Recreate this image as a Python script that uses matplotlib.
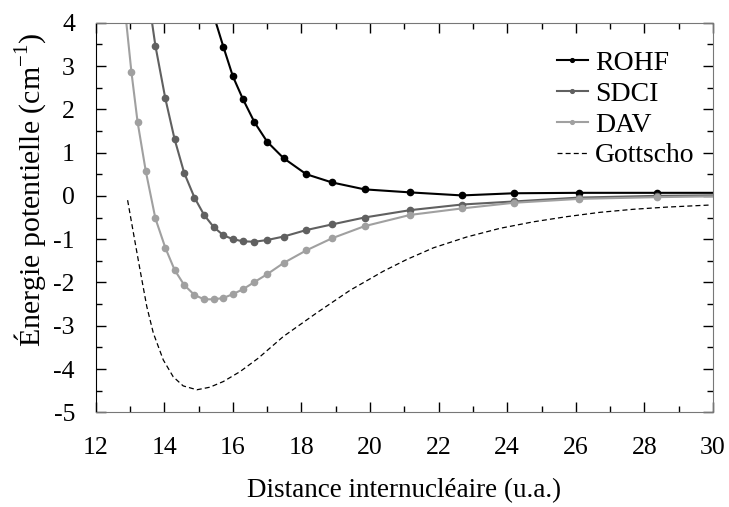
import numpy as np
import matplotlib
matplotlib.use('Agg')
import matplotlib.pyplot as plt
from matplotlib.ticker import MultipleLocator

plt.rcParams['font.family'] = ['Liberation Serif', 'DejaVu Serif']
plt.rcParams['mathtext.fontset'] = 'custom'
plt.rcParams['mathtext.rm'] = 'Liberation Serif'
plt.rcParams['axes.unicode_minus'] = False

# distances (u.a.)
r_dav = [12.86, 13.04, 13.22, 13.46, 13.74, 14.03, 14.30, 14.58, 14.88, 15.16, 15.44,
         15.72, 16.00, 16.29, 16.63, 17.00, 17.48, 18.14, 18.89, 19.84, 21.17, 22.68,
         24.19, 26.09, 28.36, 31.0]
e_dav = [4.25, 2.87, 1.71, 0.57, -0.52, -1.20, -1.71, -2.06, -2.29, -2.39, -2.39,
         -2.36, -2.27, -2.16, -1.99, -1.81, -1.55, -1.26, -0.98, -0.70, -0.44, -0.29,
         -0.16, -0.07, -0.03, 0.0]

r_sdci = r_dav[3:]
e_sdci = [5.0, 3.47, 2.25, 1.31, 0.53, -0.04, -0.44, -0.72, -0.91, -1.00, -1.05,
          -1.06, -1.02, -0.94, -0.79, -0.66, -0.50, -0.33, -0.20, -0.13, -0.04, 0.0,
          0.02]

r_rohf = r_dav[10:]
e_rohf = [4.17, 3.45, 2.76, 2.24, 1.70, 1.25, 0.87, 0.50, 0.31, 0.15, 0.08, 0.01,
          0.06, 0.07, 0.07, 0.07]

r_gott = [12.93, 13.10, 13.29, 13.49, 13.68, 13.97, 14.26, 14.55, 14.95, 15.33, 15.72,
          16.21, 16.74, 17.47, 18.45, 19.42, 20.39, 21.07, 21.85, 22.82, 23.79, 24.76,
          25.74, 26.71, 27.68, 28.65, 29.96]
e_gott = [-0.10, -0.86, -1.70, -2.56, -3.17, -3.79, -4.18, -4.39, -4.48, -4.42, -4.29,
          -4.06, -3.75, -3.25, -2.70, -2.18, -1.74, -1.47, -1.20, -0.95, -0.75, -0.60,
          -0.48, -0.38, -0.31, -0.26, -0.21]

fig = plt.figure(figsize=(7.29, 5.07), dpi=100)
ax = fig.add_axes([0.1313, 0.1868, 0.8467, 0.7684])

ax.plot(r_rohf, e_rohf, '-o', color='black', lw=1.5, ms=4.5, label='ROHF')
ax.plot(r_sdci, e_sdci, '-o', color='#606060', lw=1.5, ms=4.5, label='SDCI')
ax.plot(r_dav, e_dav, '-o', color='#a0a0a0', lw=1.5, ms=4.5, label='DAV')
ax.plot(r_gott, e_gott, color='black', lw=0.9, ls=(0, (4, 2.5)), label='Gottscho')

ax.set_xlim(12, 30)
ax.set_ylim(-5, 4)
ax.xaxis.set_major_locator(MultipleLocator(2))
ax.xaxis.set_minor_locator(MultipleLocator(1))
ax.yaxis.set_major_locator(MultipleLocator(1))
ax.yaxis.set_minor_locator(MultipleLocator(0.5))
ax.tick_params(which='both', direction='in', top=True, right=True, labelsize=18.5)
ax.tick_params(axis='x', which='both', pad=17.5)
ax.tick_params(axis='y', which='both', pad=15)
ax.tick_params(which='major', length=7, width=1)
ax.tick_params(which='minor', length=4.5, width=1)
for s in ['top', 'right', 'bottom']:
    ax.spines[s].set_color('#777777')
ax.spines['left'].set_color('black')

ax.set_xlabel('Distance internucléaire (u.a.)', fontsize=19.5, labelpad=14)
ax.set_ylabel('Énergie potentielle (cm$^{\\mathregular{-1}}$)', fontsize=21.5)
ax.yaxis.set_label_coords(-0.077, 0.57)

ax.legend(loc='upper left', bbox_to_anchor=(0.764, 0.9), bbox_transform=fig.transFigure,
          frameon=False, fontsize=20, handlelength=1.1, handletextpad=0.26,
          labelspacing=0.19, borderpad=0, borderaxespad=0, markerscale=0.6)

fig.savefig('out.png', dpi=100)
